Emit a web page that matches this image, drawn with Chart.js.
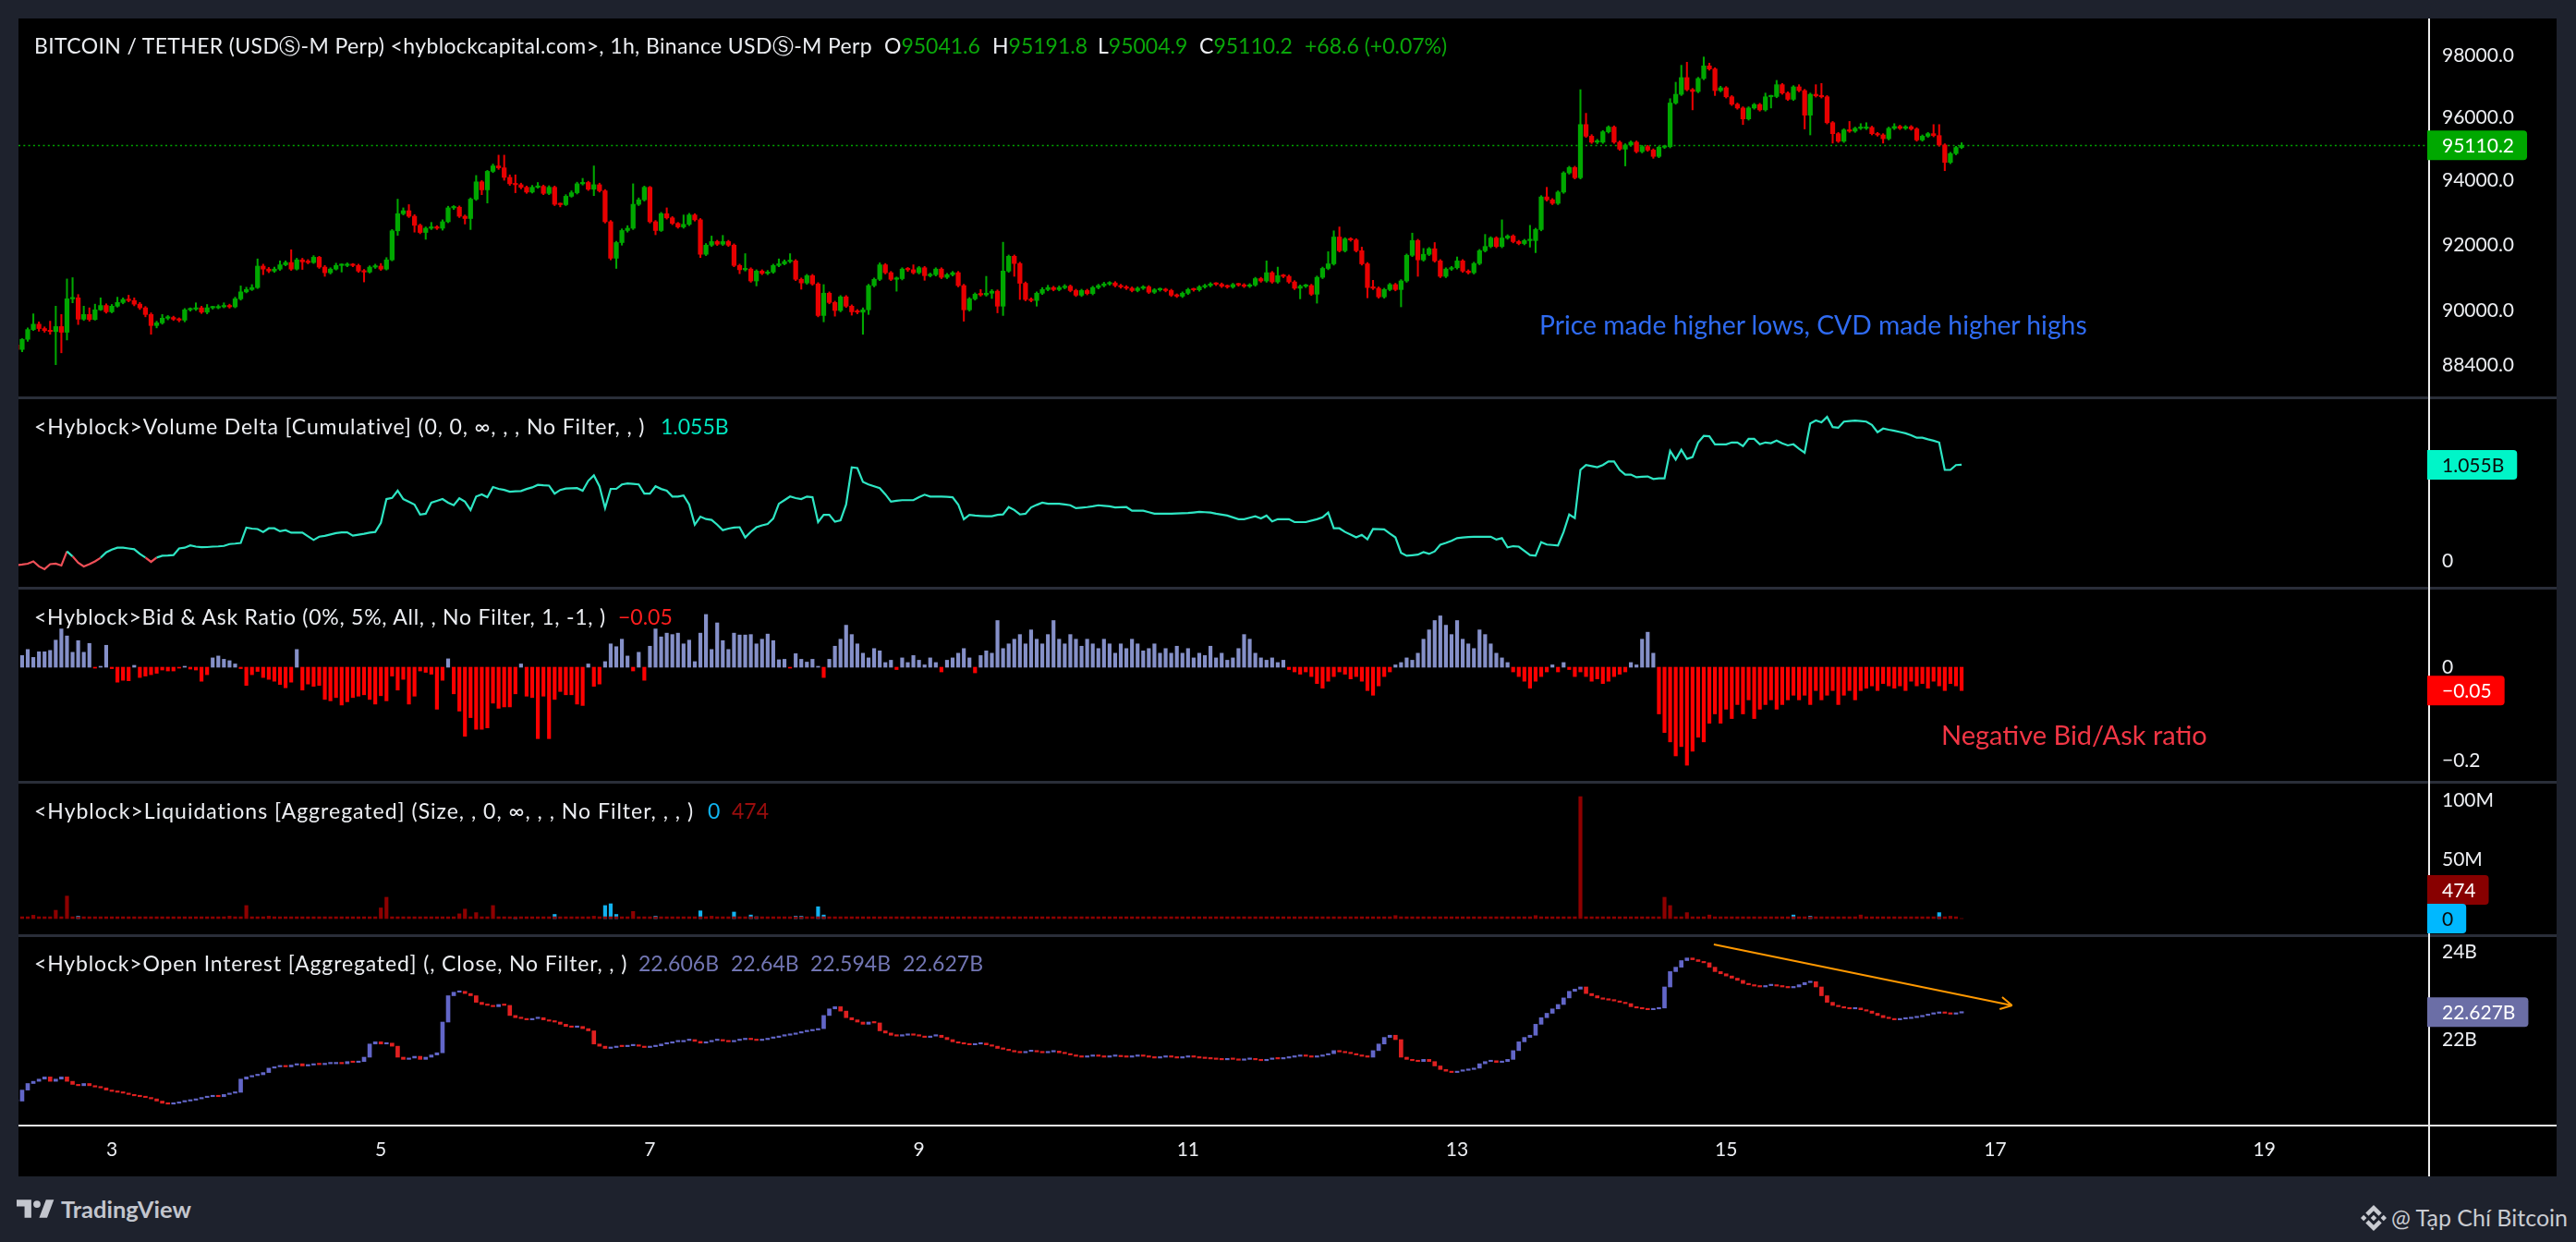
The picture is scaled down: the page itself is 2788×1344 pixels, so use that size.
<!DOCTYPE html>
<html>
<head>
<meta charset="utf-8">
<title>BTCUSDT 1h - Hyblock</title>
<script src="https://cdn.jsdelivr.net/npm/chart.js@4.4.1/dist/chart.umd.min.js"></script>
<style>
  html, body { margin: 0; padding: 0; }
  body { width: 2788px; height: 1344px; background: #1e222d; position: relative; overflow: hidden;
         font-family: Lato, "Liberation Sans", "DejaVu Sans", sans-serif; }
  #frame { position: absolute; left: 20px; top: 20px; width: 2747px; height: 1253px; background: #000; }
  .ln { position: absolute; }
  canvas { position: absolute; left: 20px; }
  .t { position: absolute; white-space: pre; font-size: 23px; line-height: 23px; color: #eceef2; }
  .up { color: #0aa60a; }
  .oi { color: #7276b4; }
</style>
</head>
<body>
<div id="frame"></div>
<div class="ln" style="left:20px;top:429px;width:2747px;height:3px;background:#2a2e39"></div>
<div class="ln" style="left:20px;top:635px;width:2747px;height:3px;background:#2a2e39"></div>
<div class="ln" style="left:20px;top:845px;width:2747px;height:3px;background:#2a2e39"></div>
<div class="ln" style="left:20px;top:1011px;width:2747px;height:3px;background:#2a2e39"></div>
<div class="ln" style="left:20px;top:1217px;width:2747px;height:2px;background:#ececec"></div>
<div class="ln" style="left:2628px;top:20px;width:2px;height:1253px;background:#ececec"></div>

<canvas id="pricePane" width="2747" height="410" style="top:20px"></canvas>
<canvas id="cvdPane" width="2747" height="206" style="top:430px"></canvas>
<canvas id="ratioPane" width="2747" height="210" style="top:636px"></canvas>
<canvas id="liqPane" width="2747" height="166" style="top:846px"></canvas>
<canvas id="oiPane" width="2747" height="261" style="top:1012px"></canvas>

<div class="t" style="left:37px;top:38px;letter-spacing:0.36px">BITCOIN / TETHER (USDⓈ-M Perp) &lt;hyblockcapital.com&gt;, 1h, Binance USDⓈ-M Perp</div>
<div class="t" style="left:957px;top:38px">O<span class="up">95041.6</span></div>
<div class="t" style="left:1074px;top:38px">H<span class="up">95191.8</span></div>
<div class="t" style="left:1188px;top:38px">L<span class="up">95004.9</span></div>
<div class="t" style="left:1298px;top:38px">C<span class="up">95110.2</span></div>
<div class="t up" style="left:1412px;top:38px">+68.6 (+0.07%)</div>

<div class="t" style="left:37px;top:450px;letter-spacing:0.87px">&lt;Hyblock&gt;Volume Delta [Cumulative] (0, 0, ∞, , , No Filter, , )</div>
<div class="t" style="left:715px;top:450px;color:#00e6bf">1.055B</div>
<div class="t" style="left:37px;top:656px;letter-spacing:0.75px">&lt;Hyblock&gt;Bid &amp; Ask Ratio (0%, 5%, All, , No Filter, 1, -1, )</div>
<div class="t" style="left:669px;top:656px;color:#ff1e1e">−0.05</div>
<div class="t" style="left:37px;top:866px;letter-spacing:1px">&lt;Hyblock&gt;Liquidations [Aggregated] (Size, , 0, ∞, , , No Filter, , , )</div>
<div class="t" style="left:766px;top:866px;color:#10b4f0">0</div>
<div class="t" style="left:792px;top:866px;color:#9a0d0d">474</div>
<div class="t" style="left:37px;top:1031px;letter-spacing:0.85px">&lt;Hyblock&gt;Open Interest [Aggregated] (, Close, No Filter, , )</div>
<div class="t oi" style="left:691px;top:1031px">22.606B</div>
<div class="t oi" style="left:791px;top:1031px">22.64B</div>
<div class="t oi" style="left:877px;top:1031px">22.594B</div>
<div class="t oi" style="left:977px;top:1031px">22.627B</div>

<div class="t" style="left:1666px;top:337px;font-size:28.3px;line-height:28px;color:#2f6bf2">Price made higher lows, CVD made higher highs</div>
<div class="t" style="left:2101px;top:780px;font-size:29px;line-height:29px;color:#f23645">Negative Bid/Ask ratio</div>

<svg style="position:absolute;left:18px;top:1298px" width="44" height="20" viewBox="0 0 36 16">
  <path d="M13 16H7V6H0V0h13v16zM27 16h-7l6-16h7l-6 16z" fill="#c3c6ce"/><circle cx="18" cy="4" r="3.2" fill="#c3c6ce"/>
</svg>
<div class="t" style="left:66px;top:1296px;font-size:25.5px;line-height:25.5px;font-weight:700;color:#c3c6ce">TradingView</div>
<svg style="position:absolute;left:2555px;top:1304px" width="28" height="28" viewBox="0 0 126 126">
  <path fill="#c9cbd1" d="M38.2 53L63 28.2 87.8 53l14.4-14.4L63 0 23.8 38.6zM0 63l14.4-14.4L28.8 63 14.4 77.4zm38.2 10L63 97.8 87.8 73l14.4 14.4L63 126 23.8 87.4zM97.2 63l14.4-14.4L126 63l-14.4 14.4zM77.6 63L63 48.4 48.4 63 63 77.6z"/>
</svg>
<div class="t" style="left:2588px;top:1305px;font-size:25px;line-height:25px;color:#c9cbd1">@ Tạp Chí Bitcoin</div>

<script>
// hours are counted from Dec 3 00:00, first candle is Dec 2 07:00
const FIRST_HOUR = -17;
const dayTicks = [3, 5, 7, 9, 11, 13, 15, 17, 19];
const priceTicks = [88400, 90000, 92000, 94000, 96000, 98000];

const opens = [
  88990, 88860, 89160, 89450, 89610, 89480, 89420, 89390, 89540, 89370, 90370, 90400,
  89760, 89900, 89750, 90040, 90170, 89980, 90150, 90260, 90350, 90320, 90210, 90100,
  89900, 89570, 89650, 89790, 89810, 89760, 89730, 90040, 90060, 90100, 89970, 90100,
  90100, 90130, 90170, 90130, 90370, 90580, 90650, 90710, 91360, 91270, 91210, 91270,
  91400, 91470, 91270, 91550, 91490, 91470, 91630, 91330, 91160, 91270, 91380, 91380,
  91400, 91380, 91210, 91180, 91330, 91360, 91270, 91550, 92440, 92970, 93060, 92890,
  92610, 92390, 92520, 92560, 92520, 92720, 93150, 93170, 92890, 92820, 93420, 93960,
  93710, 94290, 94460, 94400, 94100, 93900, 93870, 93790, 93640, 93790, 93820, 93600,
  93790, 93260, 93250, 93510, 93620, 93900, 93940, 93730, 93870, 93680, 92720, 91600,
  92080, 92450, 92520, 93260, 93400, 93790, 92720, 92450, 92970, 92840, 92670, 92560,
  92640, 92930, 92780, 91720, 92000, 92110, 92030, 92110, 92000, 91380, 91250, 91270,
  90910, 91210, 91140, 91180, 91380, 91430, 91500, 91520, 90960, 90850, 91070, 90820,
  89870, 90540, 90260, 90020, 90430, 90150, 89980, 89970, 90040, 90770, 90960, 91400,
  91160, 90960, 90980, 91270, 91250, 91160, 91310, 91070, 91100, 91270, 91020, 91100,
  91160, 90770, 90040, 90370, 90510, 90490, 90540, 90600, 90150, 91210, 91660, 91440,
  90840, 90350, 90320, 90540, 90650, 90710, 90650, 90710, 90750, 90620, 90480, 90620,
  90530, 90710, 90770, 90820, 90850, 90770, 90730, 90690, 90620, 90690, 90730, 90570,
  90640, 90650, 90620, 90480, 90450, 90540, 90650, 90640, 90730, 90770, 90820, 90810,
  90750, 90730, 90800, 90790, 90750, 90790, 90980, 90910, 91160, 90880, 91070, 91050,
  90880, 90690, 90750, 90770, 90510, 91020, 91290, 91430, 92250, 91830, 92190, 92160,
  91830, 91430, 90710, 90690, 90430, 90650, 90800, 90650, 90910, 91690, 92140, 91550,
  91720, 91890, 91520, 91050, 91270, 91310, 91520, 91210, 91160, 91440, 91830, 91960,
  92220, 91960, 92220, 92280, 92110, 92050, 92140, 92140, 92480, 93490, 93400, 93290,
  93640, 94240, 94410, 94090, 95770, 95400, 95210, 95210, 95540, 95690, 95210, 94990,
  95120, 95210, 94910, 95070, 94960, 94760, 95050, 95070, 96460, 96740, 97280, 96890,
  96830, 97250, 97660, 97560, 96860, 96950, 96660, 96420, 96300, 95950, 96300, 96410,
  96240, 96660, 96670, 97050, 96780, 96580, 96980, 96860, 96070, 96740, 96690, 96660,
  95830, 95480, 95240, 95600, 95560, 95650, 95650, 95680, 95480, 95440, 95320, 95650,
  95710, 95650, 95700, 95630, 95280, 95400, 95480, 95420, 95120, 94570, 94850, 95041.6
];
const highs = [
  89030, 89180, 89500, 89920, 89680, 89530, 89700, 90150, 89900, 90970, 91010, 90500,
  90150, 90100, 90210, 90400, 90220, 90200, 90420, 90400, 90480, 90400, 90260, 90140,
  89950, 89700, 89900, 89870, 89850, 89800, 90080, 90100, 90250, 90150, 90200, 90150,
  90190, 90250, 90210, 90420, 90760, 90720, 90800, 91580, 91420, 91320, 91330, 91520,
  91520, 91860, 91600, 91600, 91560, 91680, 91660, 91380, 91310, 91450, 91430, 91460,
  91440, 91420, 91260, 91370, 91420, 91440, 91620, 92480, 93420, 93150, 93250, 92940,
  92650, 92560, 92700, 92600, 92780, 93200, 93220, 93210, 92930, 93460, 94160, 94000,
  94320, 94520, 94800, 94800, 94180, 94180, 93920, 93830, 93850, 93940, 93860, 93840,
  93830, 93300, 93560, 93680, 93950, 94070, 93980, 94460, 93920, 93720, 92760, 92120,
  92500, 92600, 93900, 93460, 93830, 93820, 92760, 93010, 93150, 92880, 92700, 92930,
  92980, 92970, 92820, 92050, 92280, 92150, 92300, 92150, 92040, 91420, 91740, 91310,
  91250, 91250, 91230, 91420, 91580, 91550, 91740, 91560, 91000, 91110, 91110, 90860,
  90800, 90580, 90300, 90470, 90470, 90190, 90050, 90100, 90810, 91000, 91460, 91440,
  91200, 91030, 91310, 91320, 91400, 91350, 91350, 91150, 91310, 91310, 91140, 91200,
  91200, 90810, 90410, 90550, 90650, 91050, 90650, 90640, 92090, 91700, 91700, 91480,
  90880, 90400, 90580, 90710, 90780, 90750, 90760, 90800, 90790, 90660, 90660, 90660,
  90750, 90810, 90870, 90890, 90890, 90810, 90770, 90730, 90730, 90770, 90770, 90680,
  90700, 90690, 90660, 90520, 90580, 90690, 90690, 90770, 90810, 90860, 90860, 90850,
  90790, 90840, 90840, 90830, 90830, 91020, 91020, 91520, 91200, 91330, 91110, 91090,
  90920, 90790, 90810, 90810, 91060, 91330, 91800, 92440, 92560, 92230, 92230, 92200,
  91940, 91470, 90930, 90730, 90690, 90840, 90840, 90950, 91730, 92370, 92180, 91900,
  91930, 92080, 91560, 91310, 91350, 91640, 91560, 91250, 91480, 91870, 92330, 92260,
  92260, 92780, 92320, 92320, 92150, 92180, 92610, 92520, 93530, 93790, 93440, 93680,
  94280, 94450, 94450, 96890, 96130, 95450, 95300, 95580, 95730, 95730, 95250, 95160,
  95250, 95250, 95110, 95110, 95000, 95090, 95110, 96600, 97130, 97680, 97780, 96930,
  97290, 97950, 97750, 97600, 97000, 96990, 96700, 96460, 96340, 96340, 96450, 96450,
  96780, 96710, 97190, 97090, 96820, 97020, 97050, 96900, 96780, 97050, 97090, 96700,
  95870, 95520, 95640, 95870, 95690, 95800, 95830, 95720, 95520, 95480, 95690, 95800,
  95750, 95740, 95740, 95670, 95440, 95520, 95770, 95770, 95160, 94890, 95080, 95191.8
];
const lows = [
  88820, 88790, 89100, 89420, 89400, 89370, 89310, 88410, 88760, 89140, 90250, 89600,
  89720, 89700, 89730, 90020, 89940, 89950, 90120, 90220, 90280, 90160, 90050, 89830,
  89310, 89500, 89610, 89740, 89720, 89680, 89680, 90000, 90020, 89930, 89920, 90060,
  90070, 90100, 90090, 90100, 90330, 90550, 90620, 90680, 91100, 91160, 91170, 91230,
  91370, 91230, 91240, 91260, 91430, 91440, 91290, 91050, 91120, 91240, 91180, 91340,
  91340, 91170, 90880, 91150, 91290, 91230, 91240, 91520, 92300, 92930, 92850, 92400,
  92350, 92180, 92480, 92480, 92460, 92690, 93100, 92850, 92650, 92480, 93380, 93560,
  93300, 94250, 94350, 94010, 93850, 93620, 93740, 93600, 93610, 93760, 93560, 93560,
  93220, 93180, 93220, 93480, 93580, 93860, 93690, 93530, 93640, 92680, 91550, 91290,
  92000, 92400, 92480, 93220, 93360, 92680, 92320, 92420, 92800, 92630, 92520, 92520,
  92600, 92740, 91620, 91680, 91960, 91990, 91990, 91960, 91340, 91130, 91210, 90870,
  90760, 91100, 91100, 91140, 91340, 91400, 91460, 90920, 90660, 90810, 90780, 89830,
  89680, 90220, 89850, 89980, 90110, 89880, 89920, 89310, 89900, 90730, 90920, 91120,
  90920, 90600, 90940, 91200, 91120, 91120, 90930, 91030, 91060, 90980, 90980, 91060,
  90730, 89700, 90000, 90330, 90450, 90450, 90380, 89950, 89870, 91170, 91050, 90350,
  90310, 90280, 90150, 90500, 90610, 90610, 90610, 90670, 90580, 90440, 90440, 90490,
  90490, 90670, 90730, 90780, 90730, 90690, 90650, 90580, 90580, 90650, 90530, 90530,
  90600, 90580, 90440, 90410, 90410, 90500, 90600, 90600, 90690, 90730, 90770, 90710,
  90690, 90690, 90750, 90710, 90710, 90750, 90870, 90870, 90840, 90840, 91010, 90840,
  90650, 90370, 90710, 90470, 90240, 90980, 91250, 91390, 91790, 91790, 92120, 91790,
  91390, 90400, 90650, 90390, 90390, 90610, 90610, 90130, 90870, 91650, 91050, 91510,
  91680, 91480, 91010, 91010, 91230, 91270, 91170, 91120, 91120, 91400, 91790, 91920,
  91920, 91920, 92180, 92070, 92010, 92010, 91940, 91770, 92440, 93360, 93250, 93250,
  93600, 94200, 94050, 94050, 95360, 95170, 95160, 95170, 95500, 95170, 94950, 94460,
  95080, 94870, 94870, 94920, 94700, 94720, 95010, 95030, 96420, 96700, 96850, 96240,
  96790, 97210, 97520, 96700, 96820, 96620, 96380, 96260, 95770, 95910, 96260, 96200,
  96200, 96300, 96630, 96740, 96540, 96540, 96820, 95630, 95440, 96650, 96620, 95790,
  95180, 95200, 95200, 95520, 95520, 95610, 95610, 95440, 95400, 95180, 95280, 95610,
  95610, 95610, 95590, 95240, 95240, 95360, 95380, 95080, 94310, 94530, 94810, 95004.9
];
const closes = [
  88860, 89160, 89450, 89610, 89480, 89420, 89390, 89540, 89370, 90370, 90400, 89760,
  89900, 89750, 90040, 90170, 89980, 90150, 90260, 90350, 90320, 90210, 90100, 89900,
  89570, 89650, 89790, 89810, 89760, 89730, 90040, 90060, 90100, 89970, 90100, 90100,
  90130, 90170, 90130, 90370, 90580, 90650, 90710, 91360, 91270, 91210, 91270, 91400,
  91470, 91270, 91550, 91490, 91470, 91630, 91330, 91160, 91270, 91380, 91380, 91400,
  91380, 91210, 91180, 91330, 91360, 91270, 91550, 92440, 92970, 93060, 92890, 92610,
  92390, 92520, 92560, 92520, 92720, 93150, 93170, 92890, 92820, 93420, 93960, 93710,
  94290, 94460, 94400, 94100, 93900, 93870, 93790, 93640, 93790, 93820, 93600, 93790,
  93260, 93250, 93510, 93620, 93900, 93940, 93730, 93870, 93680, 92720, 91600, 92080,
  92450, 92520, 93260, 93400, 93790, 92720, 92450, 92970, 92840, 92670, 92560, 92640,
  92930, 92780, 91720, 92000, 92110, 92030, 92110, 92000, 91380, 91250, 91270, 90910,
  91210, 91140, 91180, 91380, 91430, 91500, 91520, 90960, 90850, 91070, 90820, 89870,
  90540, 90260, 90020, 90430, 90150, 89980, 89970, 90040, 90770, 90960, 91400, 91160,
  90960, 90980, 91270, 91250, 91160, 91310, 91070, 91100, 91270, 91020, 91100, 91160,
  90770, 90040, 90370, 90510, 90490, 90540, 90600, 90150, 91210, 91660, 91440, 90840,
  90350, 90320, 90540, 90650, 90710, 90650, 90710, 90750, 90620, 90480, 90620, 90530,
  90710, 90770, 90820, 90850, 90770, 90730, 90690, 90620, 90690, 90730, 90570, 90640,
  90650, 90620, 90480, 90450, 90540, 90650, 90640, 90730, 90770, 90820, 90810, 90750,
  90730, 90800, 90790, 90750, 90790, 90980, 90910, 91160, 90880, 91070, 91050, 90880,
  90690, 90750, 90770, 90510, 91020, 91290, 91430, 92250, 91830, 92190, 92160, 91830,
  91430, 90710, 90690, 90430, 90650, 90800, 90650, 90910, 91690, 92140, 91550, 91720,
  91890, 91520, 91050, 91270, 91310, 91520, 91210, 91160, 91440, 91830, 91960, 92220,
  91960, 92220, 92280, 92110, 92050, 92140, 92140, 92480, 93490, 93400, 93290, 93640,
  94240, 94410, 94090, 95770, 95400, 95210, 95210, 95540, 95690, 95210, 94990, 95120,
  95210, 94910, 95070, 94960, 94760, 95050, 95070, 96460, 96740, 97280, 96890, 96830,
  97250, 97660, 97560, 96860, 96950, 96660, 96420, 96300, 95950, 96300, 96410, 96240,
  96660, 96670, 97050, 96780, 96580, 96980, 96860, 96070, 96740, 96690, 96660, 95830,
  95480, 95240, 95600, 95560, 95650, 95650, 95680, 95480, 95440, 95320, 95650, 95710,
  95650, 95700, 95630, 95280, 95400, 95480, 95420, 95120, 94570, 94850, 95041.6, 95110.2
];

// cumulative volume delta, millions USD
const cvd = [
  -45, -40, -30, -5, -60, -90, -35, -30, -50, 105, 50, -20,
  -60, -35, -5, 35, 95, 125, 145, 145, 137, 129, 77, 37,
  -10, 37, 57, 60, 65, 137, 145, 170, 157, 150, 152, 157,
  160, 165, 185, 190, 197, 366, 355, 350, 318, 358, 358, 326,
  338, 310, 312, 310, 270, 230, 266, 275, 290, 305, 314, 314,
  278, 288, 298, 310, 318, 418, 679, 691, 771, 679, 650, 619,
  510, 518, 639, 660, 679, 639, 611, 687, 651, 559, 707, 731,
  699, 811, 791, 779, 759, 765, 767, 790, 807, 835, 830, 827,
  739, 779, 795, 797, 799, 771, 879, 939, 819, 579, 791, 791,
  839, 851, 845, 839, 739, 739, 819, 790, 771, 707, 707, 719,
  619, 398, 486, 460, 450, 398, 338, 355, 366, 370, 258, 320,
  370, 390, 406, 466, 627, 667, 707, 690, 679, 707, 699, 426,
  506, 506, 430, 446, 619, 1028, 1020, 867, 840, 819, 799, 731,
  651, 660, 667, 667, 667, 700, 727, 707, 707, 707, 703, 699,
  619, 458, 506, 498, 494, 490, 490, 506, 510, 591, 559, 510,
  518, 587, 615, 639, 627, 627, 627, 620, 611, 579, 585, 591,
  600, 611, 605, 599, 587, 590, 591, 551, 551, 551, 535, 518,
  518, 518, 518, 522, 524, 526, 532, 539, 535, 531, 518, 508,
  498, 478, 458, 458, 474, 490, 466, 498, 434, 458, 458, 458,
  426, 426, 426, 442, 458, 478, 531, 358, 358, 318, 290, 258,
  286, 238, 350, 348, 346, 300, 258, 89, 57, 63, 69, 97,
  77, 105, 178, 197, 220, 250, 258, 262, 266, 266, 266, 266,
  234, 250, 150, 162, 157, 110, 65, 57, 206, 180, 175, 170,
  318, 510, 470, 999, 1052, 1040, 1028, 1052, 1092, 1092, 999, 947,
  947, 919, 925, 927, 899, 907, 907, 1208, 1112, 1220, 1120, 1140,
  1300, 1372, 1368, 1280, 1280, 1280, 1300, 1300, 1260, 1340, 1340, 1280,
  1300, 1292, 1320, 1290, 1268, 1280, 1230, 1188, 1509, 1541, 1521, 1581,
  1469, 1461, 1529, 1535, 1541, 1535, 1529, 1493, 1413, 1453, 1440, 1429,
  1415, 1401, 1380, 1352, 1352, 1335, 1320, 1300, 999, 999, 1052, 1055
];

const bidAskRatio = [
  0.025, 0.025, 0.038, 0.021, 0.033, 0.033, 0.036, 0.058, 0.082, 0.067, 0.032, 0.057,
  0.032, 0.051, -0.002, 0.001, 0.047, -0.003, -0.032, -0.028, -0.029, 0.004, -0.022, -0.019,
  -0.016, -0.013, -0.006, -0.008, -0.008, -0.002, 0.002, -0.004, -0.006, -0.030, -0.016, 0.020,
  0.024, 0.017, 0.014, 0.007, -0.003, -0.039, -0.016, -0.009, -0.022, -0.026, -0.030, -0.037,
  -0.044, -0.032, 0.038, -0.049, -0.036, -0.041, -0.039, -0.069, -0.072, -0.065, -0.081, -0.074,
  -0.065, -0.062, -0.059, -0.069, -0.079, -0.061, -0.072, -0.019, -0.049, -0.026, -0.079, -0.062,
  -0.008, -0.011, -0.015, -0.090, -0.028, 0.018, -0.057, -0.094, -0.148, -0.108, -0.133, -0.133,
  -0.130, -0.077, -0.088, -0.085, -0.085, -0.057, 0.007, -0.062, -0.065, -0.153, -0.062, -0.153,
  -0.069, -0.052, -0.059, -0.059, -0.079, -0.082, 0.007, -0.041, -0.036, 0.012, 0.050, 0.044,
  0.060, 0.024, -0.008, 0.032, -0.028, 0.045, 0.082, 0.065, 0.073, 0.070, 0.073, 0.050,
  0.058, 0.012, 0.073, 0.113, 0.038, 0.095, 0.057, 0.038, 0.073, 0.069, 0.069, 0.070,
  0.050, 0.060, 0.071, 0.057, 0.016, 0.017, -0.001, 0.029, 0.017, 0.011, 0.017, 0.001,
  -0.022, 0.017, 0.045, 0.06, 0.09, 0.07, 0.05, 0.03, 0.02, 0.04, 0.035, 0.01,
  0.015, -0.005, 0.02, 0.01, 0.025, 0.015, 0.005, 0.02, 0.01, -0.01, 0.015, 0.02,
  0.03, 0.04, 0.02, -0.012, 0.025, 0.035, 0.03, 0.1, 0.04, 0.05, 0.06, 0.07,
  0.05, 0.08, 0.06, 0.05, 0.07, 0.1, 0.06, 0.05, 0.07, 0.06, 0.045, 0.06,
  0.05, 0.04, 0.06, 0.05, 0.03, 0.05, 0.04, 0.06, 0.05, 0.035, 0.04, 0.05,
  0.03, 0.04, 0.03, 0.045, 0.03, 0.04, 0.02, 0.03, 0.025, 0.045, 0.02, 0.03,
  0.015, 0.02, 0.04, 0.07, 0.06, 0.03, 0.02, 0.015, 0.02, 0.01, 0.015, -0.005,
  -0.01, -0.015, -0.01, -0.02, -0.035, -0.045, -0.03, -0.02, -0.01, -0.015, -0.025, -0.02,
  -0.03, -0.05, -0.06, -0.04, -0.02, -0.01, 0.005, 0.01, 0.02, 0.015, 0.03, 0.06,
  0.08, 0.1, 0.11, 0.09, 0.07, 0.1, 0.06, 0.05, 0.04, 0.08, 0.07, 0.05,
  0.03, 0.02, 0.01, -0.01, -0.02, -0.03, -0.045, -0.03, -0.02, -0.01, 0.005, -0.01,
  0.01, -0.005, -0.02, -0.01, -0.02, -0.03, -0.025, -0.035, -0.03, -0.02, -0.015, -0.01,
  0.01, 0.005, 0.06, 0.075, 0.03, -0.1, -0.14, -0.16, -0.19, -0.17, -0.21, -0.18,
  -0.15, -0.16, -0.12, -0.1, -0.12, -0.09, -0.11, -0.08, -0.1, -0.07, -0.11, -0.09,
  -0.08, -0.07, -0.09, -0.08, -0.07, -0.06, -0.07, -0.06, -0.08, -0.05, -0.07, -0.06,
  -0.05, -0.08, -0.06, -0.05, -0.07, -0.05, -0.045, -0.04, -0.05, -0.035, -0.04, -0.045,
  -0.04, -0.05, -0.03, -0.04, -0.035, -0.045, -0.03, -0.04, -0.05, -0.035, -0.04, -0.05
];

// liquidations, millions USD
const longLiq = [
  1.5, 1.5, 1.5, 2.8, 1.5, 1.5, 1.5, 7, 1.5, 19, 1.5, 1.5,
  1.5, 1.5, 1.5, 1.5, 1.5, 1.5, 1.5, 1.5, 1.5, 1.5, 1.5, 1.5,
  1.5, 1.5, 1.5, 1.5, 1.5, 1.5, 1.5, 1.5, 1.5, 1.5, 1.5, 1.5,
  1.5, 1.5, 2, 1.5, 1.5, 11, 1.5, 1.5, 1.5, 2, 1.5, 1.5,
  1.5, 1.5, 1.5, 1.5, 1.5, 1.5, 1.5, 1.5, 1.5, 1.5, 1.5, 1.5,
  1.5, 1.5, 1.5, 1.5, 1.5, 9, 18, 1.5, 1.5, 1.5, 1.5, 1.5,
  1.5, 1.5, 1.5, 1.5, 1.5, 1.5, 1.5, 4, 8, 1.5, 5, 1.5,
  1.5, 11, 1.5, 1.5, 1.5, 1.5, 1.5, 1.5, 1.5, 1.5, 1.5, 1.5,
  1.5, 1.5, 1.5, 1.5, 1.5, 1.5, 1.5, 2, 1.5, 1.5, 1.5, 1.5,
  1.5, 1.5, 6, 1.5, 1.5, 1.5, 1.5, 1.5, 1.5, 1.5, 1.5, 1.5,
  1.5, 1.5, 1.5, 1.5, 2, 1.5, 1.5, 1.5, 1.5, 1.5, 1.5, 1.5,
  1.5, 1.5, 1.5, 1.5, 1.5, 1.5, 1.5, 1.5, 1.5, 1.5, 1.5, 1.5,
  1.5, 1.5, 1.5, 1.5, 1.5, 1.5, 1.5, 1.5, 1.5, 1.5, 1.5, 1.5,
  1.5, 1.5, 1.5, 1.5, 1.5, 1.5, 1.5, 1.5, 1.5, 1.5, 1.5, 1.5,
  1.5, 1.5, 1.5, 1.5, 1.5, 1.5, 1.5, 1.5, 1.5, 1.5, 1.5, 1.5,
  1.5, 1.5, 1.5, 1.5, 1.5, 1.5, 1.5, 1.5, 1.5, 1.5, 1.5, 1.5,
  1.5, 1.5, 1.5, 1.5, 1.5, 1.5, 1.5, 1.5, 1.5, 1.5, 1.5, 1.5,
  1.5, 1.5, 1.5, 1.5, 1.5, 1.5, 1.5, 1.5, 1.5, 1.5, 1.5, 1.5,
  1.5, 1.5, 1.5, 1.5, 1.5, 1.5, 1.5, 1.5, 1.5, 1.5, 1.5, 1.5,
  1.5, 1.5, 1.5, 1.5, 1.5, 1.5, 1.5, 1.5, 1.5, 1.5, 1.5, 1.5,
  1.5, 1.5, 1.5, 1.5, 1.5, 1.5, 2.5, 1.5, 1.5, 1.5, 1.5, 1.5,
  1.5, 1.5, 1.5, 1.5, 1.5, 1.5, 1.5, 1.5, 1.5, 1.5, 1.5, 1.5,
  1.5, 1.5, 1.5, 1.5, 1.5, 1.5, 1.5, 2.5, 1.5, 1.5, 1.5, 1.5,
  1.5, 1.5, 1.5, 103, 1.5, 1.5, 1.5, 1.5, 1.5, 1.5, 1.5, 1.5,
  1.5, 1.5, 1.5, 1.5, 1.5, 1.5, 18, 11, 1.5, 1.5, 5, 1.5,
  1.5, 1.5, 3, 1.5, 1.5, 1.5, 1.5, 1.5, 1.5, 1.5, 1.5, 1.5,
  1.5, 1.5, 1.5, 1.5, 1.5, 1.5, 1.5, 1.5, 1.5, 1.5, 1.5, 1.5,
  1.5, 1.5, 1.5, 1.5, 1.5, 3, 1.5, 1.5, 1.5, 1.5, 1.5, 1.5,
  1.5, 1.5, 1.5, 1.5, 1.5, 1.5, 1.5, 1.5, 1.5, 2, 1.5, 0.000474
];
const shortLiqHours = [-6, 72, 79, 88, 89, 90, 97, 105, 111, 114, 115, 122, 123, 126, 127, 300, 303, 326];
const shortLiqValues = [2, 0.5, 3.5, 11, 12.5, 3.5, 2, 6.5, 5.5, 3, 1.5, 2, 2, 10, 3, 3, 2, 5];

// open interest, billions USD
const openInterest = [
  20.60, 20.85, 21.00, 21.05, 21.10, 21.15, 21.05, 21.10, 21.15, 21.05, 20.98, 20.95,
  21.00, 20.95, 20.92, 20.90, 20.85, 20.82, 20.80, 20.78, 20.75, 20.72, 20.70, 20.68,
  20.65, 20.60, 20.55, 20.53, 20.55, 20.58, 20.60, 20.62, 20.65, 20.68, 20.70, 20.72,
  20.70, 20.75, 20.78, 20.80, 21.10, 21.15, 21.18, 21.20, 21.25, 21.35, 21.38, 21.40,
  21.38, 21.42, 21.45, 21.40, 21.42, 21.45, 21.43, 21.45, 21.45, 21.48, 21.45, 21.50,
  21.48, 21.50, 21.60, 21.90, 21.95, 21.90, 21.92, 21.85, 21.60, 21.55, 21.58, 21.62,
  21.55, 21.60, 21.65, 21.70, 22.40, 23.00, 23.08, 23.10, 23.05, 23.00, 22.85, 22.80,
  22.78, 22.75, 22.80, 22.78, 22.55, 22.50, 22.48, 22.45, 22.48, 22.50, 22.45, 22.42,
  22.40, 22.35, 22.30, 22.28, 22.30, 22.25, 22.20, 21.90, 21.85, 21.80, 21.82, 21.85,
  21.84, 21.86, 21.88, 21.85, 21.82, 21.84, 21.86, 21.90, 21.92, 21.95, 21.95, 21.98,
  22.00, 21.96, 21.92, 21.95, 21.98, 22.00, 21.97, 21.95, 21.98, 22.00, 22.02, 22.00,
  21.98, 22.00, 22.03, 22.05, 22.08, 22.10, 22.12, 22.15, 22.18, 22.20, 22.22, 22.25,
  22.55, 22.70, 22.75, 22.65, 22.50, 22.45, 22.40, 22.35, 22.40, 22.38, 22.20, 22.15,
  22.10, 22.08, 22.10, 22.12, 22.10, 22.08, 22.05, 22.08, 22.10, 22.05, 22.00, 21.95,
  21.92, 21.90, 21.88, 21.90, 21.92, 21.88, 21.85, 21.80, 21.78, 21.75, 21.72, 21.70,
  21.73, 21.75, 21.72, 21.70, 21.72, 21.74, 21.70, 21.68, 21.65, 21.62, 21.60, 21.62,
  21.64, 21.62, 21.60, 21.62, 21.63, 21.61, 21.60, 21.62, 21.64, 21.62, 21.60, 21.58,
  21.60, 21.62, 21.60, 21.58, 21.60, 21.62, 21.60, 21.58, 21.57, 21.56, 21.55, 21.54,
  21.56, 21.55, 21.53, 21.55, 21.56, 21.54, 21.52, 21.55, 21.57, 21.56, 21.58, 21.60,
  21.62, 21.63, 21.62, 21.60, 21.62, 21.65, 21.68, 21.75, 21.72, 21.70, 21.68, 21.65,
  21.62, 21.60, 21.75, 21.90, 22.05, 22.10, 22.00, 21.60, 21.55, 21.52, 21.50, 21.55,
  21.50, 21.40, 21.32, 21.28, 21.25, 21.28, 21.30, 21.32, 21.35, 21.45, 21.50, 21.52,
  21.48, 21.50, 21.55, 21.75, 21.95, 22.05, 22.10, 22.35, 22.50, 22.60, 22.70, 22.80,
  22.95, 23.10, 23.15, 23.20, 23.05, 23.00, 22.95, 22.92, 22.90, 22.88, 22.85, 22.82,
  22.75, 22.72, 22.70, 22.68, 22.70, 22.72, 23.20, 23.55, 23.65, 23.80, 23.86, 23.82,
  23.78, 23.75, 23.65, 23.55, 23.50, 23.45, 23.40, 23.35, 23.28, 23.25, 23.22, 23.20,
  23.23, 23.25, 23.22, 23.20, 23.18, 23.20, 23.25, 23.30, 23.32, 23.20, 23.00, 22.85,
  22.78, 22.75, 22.72, 22.70, 22.72, 22.68, 22.65, 22.60, 22.55, 22.50, 22.48, 22.45,
  22.47, 22.48, 22.50, 22.52, 22.55, 22.58, 22.60, 22.62, 22.60, 22.58, 22.606, 22.627
];

// hand-drawn trend arrow on the OI pane (hour, OI)
const trendFrom = {hour: 285.8, oi: 24.17};
const trendTo = {hour: 339, oi: 22.78};

const FONT = 'Lato, "Liberation Sans", "DejaVu Sans", sans-serif';
const TEXT = '#eceef2';
const UP = '#00a800';
const DOWN = '#e80000';
const X_MIN = -16.65, X_MAX = 413.4;

Chart.defaults.font.family = FONT;
Chart.defaults.color = TEXT;

const hours = closes.map((c, i) => FIRST_HOUR + i);

function xAxis(show) {
  const axis = {
    type: 'linear', min: X_MIN, max: X_MAX, offset: false, bounds: 'data', display: show,
    grid: {display: false, drawTicks: false}, border: {display: false},
    ticks: {padding: 14, font: {size: 21}, color: TEXT, maxRotation: 0, autoSkip: false,
      callback: (v, i) => String(dayTicks[i])},
    afterBuildTicks: s => { s.ticks = dayTicks.map(d => ({value: (d - 3) * 24})); }
  };
  if (show) axis.afterFit = s => { s.height = 55; s.paddingLeft = 0; s.paddingRight = 0; };
  return axis;
}

function yAxis(min, max, ticks, fmt, type) {
  return {
    type: type || 'linear', position: 'right', min: min, max: max, bounds: 'data',
    grid: {display: false, drawTicks: false}, border: {display: false},
    ticks: {padding: 14, font: {size: 21}, color: TEXT, callback: fmt},
    afterBuildTicks: s => { s.ticks = ticks.map(v => ({value: v})); },
    afterFit: s => { s.width = 138; s.paddingTop = 0; s.paddingBottom = 0; }
  };
}

function baseOptions(y, showX) {
  return {
    responsive: false, animation: false, devicePixelRatio: 1, events: [],
    layout: {padding: 0},
    plugins: {legend: {display: false}, tooltip: {enabled: false}},
    scales: {x: xAxis(showX), y: y}
  };
}

// coloured value tags on the right price scale
function tagPlugin(tags) {
  return {
    id: 'tags',
    afterDraw(chart) {
      const ctx = chart.ctx, ys = chart.scales.y, x0 = chart.chartArea.right - 2;
      ctx.save();
      ctx.font = '21px ' + FONT;
      ctx.textBaseline = 'middle';
      tags.forEach(t => {
        const y = ys.getPixelForValue(t.value) + (t.shift || 0);
        const w = ctx.measureText(t.text).width + 30;
        ctx.fillStyle = t.bg;
        ctx.beginPath();
        if (ctx.roundRect) ctx.roundRect(x0, y - 16, w, 32, [0, 4, 4, 0]); else ctx.rect(x0, y - 16, w, 32);
        ctx.fill();
        ctx.fillStyle = t.fg;
        ctx.fillText(t.text, x0 + 16, y + 1);
      });
      ctx.restore();
    }
  };
}

const lastPriceLine = {
  id: 'lastPriceLine',
  beforeDatasetsDraw(chart) {
    const ctx = chart.ctx, a = chart.chartArea;
    const y = Math.round(chart.scales.y.getPixelForValue(closes[closes.length - 1])) + 0.5;
    ctx.save();
    ctx.strokeStyle = UP;
    ctx.lineWidth = 1.6;
    ctx.setLineDash([2, 3.3]);
    ctx.beginPath(); ctx.moveTo(a.left, y); ctx.lineTo(a.right, y); ctx.stroke();
    ctx.restore();
  }
};

const arrowHead = {
  id: 'arrowHead',
  afterDatasetsDraw(chart) {
    const pts = chart.getDatasetMeta(1).data;
    const a = pts[0], b = pts[1];
    const ang = Math.atan2(b.y - a.y, b.x - a.x);
    const ctx = chart.ctx;
    ctx.save();
    ctx.strokeStyle = '#ff9800';
    ctx.lineWidth = 2;
    ctx.beginPath();
    [-1, 1].forEach(s => {
      ctx.moveTo(b.x, b.y);
      ctx.lineTo(b.x - 14 * Math.cos(ang + s * 0.5), b.y - 14 * Math.sin(ang + s * 0.5));
    });
    ctx.stroke();
    ctx.restore();
  }
};

// price pane
const candleColors = closes.map((c, i) => c >= opens[i] ? UP : DOWN);
new Chart(document.getElementById('pricePane'), {
  type: 'bar',
  data: {
    datasets: [
      {data: hours.map((h, i) => ({x: h, y: [lows[i], highs[i]]})), backgroundColor: candleColors,
       barThickness: 1.4, grouped: false},
      {data: hours.map((h, i) => ({x: h, y: [opens[i], closes[i]]})), backgroundColor: candleColors,
       barThickness: 4.6, minBarLength: 1.5, grouped: false}
    ]
  },
  options: baseOptions(yAxis(87453, 99214, priceTicks, v => v.toFixed(1), 'logarithmic'), false),
  plugins: [lastPriceLine, tagPlugin([{value: closes[closes.length - 1], text: '95110.2', bg: '#00a800', fg: '#ffffff'}])]
});

// cumulative volume delta pane
new Chart(document.getElementById('cvdPane'), {
  type: 'line',
  data: {
    datasets: [{
      data: hours.map((h, i) => ({x: h, y: cvd[i]})),
      borderColor: '#2ee6c4', borderWidth: 2.2, pointRadius: 0, tension: 0,
      segment: {borderColor: c => (c.p0.parsed.y < 0 || c.p1.parsed.y < 0) ? '#ef4f57' : '#2ee6c4'}
    }]
  },
  options: baseOptions(yAxis(-294, 1795, [0], v => String(v)), false),
  plugins: [tagPlugin([{value: cvd[cvd.length - 1], text: '1.055B', bg: '#00f5c8', fg: '#0b0b0b'}])]
});

// bid & ask ratio pane
new Chart(document.getElementById('ratioPane'), {
  type: 'bar',
  data: {
    datasets: [{
      data: hours.map((h, i) => ({x: h, y: bidAskRatio[i]})),
      backgroundColor: bidAskRatio.map(v => v >= 0 ? '#8590c8' : '#ff0000'),
      barThickness: 3.5, minBarLength: 1, grouped: false
    }]
  },
  options: baseOptions(yAxis(-0.2455, 0.1703, [0, -0.2], v => v === 0 ? '0' : '\u22120.2'), false),
  plugins: [tagPlugin([{value: bidAskRatio[bidAskRatio.length - 1], text: '\u22120.05', bg: '#ff0000', fg: '#ffffff'}])]
});

// liquidations pane
new Chart(document.getElementById('liqPane'), {
  type: 'bar',
  data: {
    datasets: [
      {data: hours.map((h, i) => ({x: h, y: longLiq[i]})), backgroundColor: '#8e0000',
       barThickness: 3.5, grouped: false},
      {data: shortLiqHours.map((h, i) => ({x: h, y: shortLiqValues[i]})), backgroundColor: '#12b2f0',
       barThickness: 3.5, grouped: false}
    ]
  },
  options: baseOptions(yAxis(-14.06, 115.6, [50, 100], v => v + 'M'), false),
  plugins: [tagPlugin([
    {value: 0, text: '474', bg: '#880000', fg: '#ffffff', shift: -31},
    {value: 0, text: '0', bg: '#00b8ff', fg: '#0b0b0b'}
  ])]
});

// open interest pane (each bar runs from the previous close to this close)
new Chart(document.getElementById('oiPane'), {
  type: 'bar',
  data: {
    datasets: [
      {data: hours.map((h, i) => ({x: h, y: [openInterest[Math.max(i - 1, 0)], openInterest[i]]})),
       backgroundColor: openInterest.map((v, i) => v >= openInterest[Math.max(i - 1, 0)] ? '#6266c8' : '#e02020'),
       barThickness: 4, minBarLength: 1.5, grouped: false},
      {type: 'line', data: [{x: trendFrom.hour, y: trendFrom.oi}, {x: trendTo.hour, y: trendTo.oi}],
       borderColor: '#ff9800', borderWidth: 2, pointRadius: 0}
    ]
  },
  options: baseOptions(yAxis(20.042, 24.379, [22, 24], v => v + 'B'), true),
  plugins: [arrowHead, tagPlugin([{value: openInterest[openInterest.length - 1], text: '22.627B', bg: '#6b6ea6', fg: '#ffffff'}])]
});
</script>
</body>
</html>
